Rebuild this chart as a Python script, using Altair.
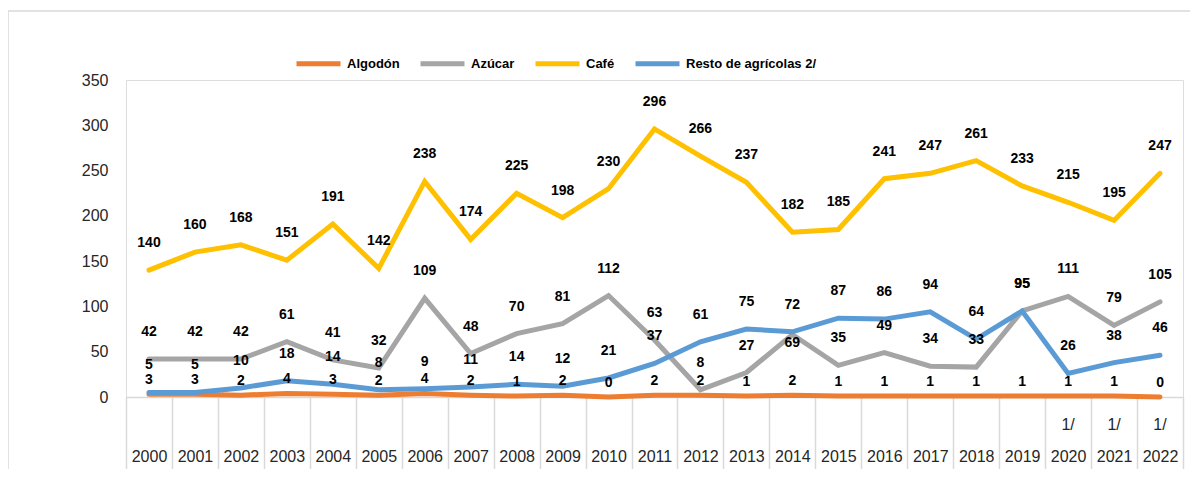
import altair as alt
import pandas as pd

years = [str(y) for y in range(2000, 2023)]
algodon = [3, 3, 2, 4, 3, 2, 4, 2, 1, 2, 0, 2, 2, 1, 2, 1, 1, 1, 1, 1, 1, 1, 0]
azucar = [42, 42, 42, 61, 41, 32, 109, 48, 70, 81, 112, 63, 8, 27, 69, 35, 49, 34, 33, 95, 111, 79, 105]
cafe = [140, 160, 168, 151, 191, 142, 238, 174, 225, 198, 230, 296, 266, 237, 182, 185, 241, 247, 261, 233, 215, 195, 247]
resto = [5, 5, 10, 18, 14, 8, 9, 11, 14, 12, 21, 37, 61, 75, 72, 87, 86, 94, 64, 95, 26, 38, 46]
notes = [""] * 20 + ["1/", "1/", "1/"]

series_names = ["Algodón", "Azúcar", "Café", "Resto de agrícolas  2/"]
series_colors = ["#ED7D31", "#A5A5A5", "#FFC000", "#5B9BD5"]
series_values = [algodon, azucar, cafe, resto]

rows = []
for name, vals in zip(series_names, series_values):
    for i, (yr, v) in enumerate(zip(years, vals)):
        if name == "Algodón":
            lbl = "bajo"
        elif name == "Azúcar" and 0 < resto[i] - v < 6:
            lbl = "debajo"
        else:
            lbl = "alto"
        rows.append({"year": yr, "serie": name, "valor": v, "lbl": lbl})
df = pd.DataFrame(rows)
notes_df = pd.DataFrame({"year": years, "nota": notes})

W, H = 1057, 317
FONT = "Liberation Sans"

x_enc = alt.X(
    "year:N",
    sort=years,
    scale=alt.Scale(type="band", paddingInner=0, paddingOuter=0, domain=years),
    axis=alt.Axis(
        title=None,
        labelAngle=0,
        labelFont=FONT,
        labelFontSize=16,
        labelColor="#262626",
        tickBand="extent",
        tickSize=75,
        tickColor="#D9D9D9",
        tickWidth=1.5,
        domainColor="#D9D9D9",
        domainWidth=1.5,
        labelPadding=-24,
        grid=False,
    ),
)
y_enc = alt.Y(
    "valor:Q",
    scale=alt.Scale(domain=[0, 350], nice=False),
    axis=alt.Axis(
        title=None,
        values=[0, 50, 100, 150, 200, 250, 300, 350],
        labelFont=FONT,
        labelFontSize=16,
        labelColor="#262626",
        domain=False,
        ticks=False,
        grid=False,
        labelPadding=18,
    ),
)

frame = alt.Chart(pd.DataFrame({"a": [0]})).mark_rect(
    fill=None, stroke="#D9D9D9", strokeWidth=1.5
).encode(
    x=alt.value(-118), x2=alt.value(W + 200), y=alt.value(-69), y2=alt.value(H + 200)
)

lines = alt.Chart(df).mark_line(strokeWidth=5, strokeCap="round", strokeJoin="miter").encode(
    x=x_enc,
    y=y_enc,
    color=alt.Color(
        "serie:N",
        scale=alt.Scale(domain=series_names, range=series_colors),
        legend=alt.Legend(
            title=None,
            orient="none",
            direction="horizontal",
            legendX=168,
            legendY=-41,
            symbolType="stroke",
            symbolStrokeWidth=5,
            symbolSize=1936,
            labelFont=FONT,
            labelFontSize=13,
            labelFontWeight="bold",
            labelColor="#000000",
            labelOffset=4,
            columnPadding=10,
        ),
    ),
    order=alt.Order("year:N"),
)


def label_layer(kind, dy):
    return alt.Chart(df).transform_filter(
        alt.datum.lbl == kind
    ).mark_text(
        dy=dy, font=FONT, fontSize=14, fontWeight="bold", color="#000000", baseline="middle"
    ).encode(x=x_enc, y=y_enc, text=alt.Text("valor:Q"))


labels_alto = label_layer("alto", -27)
labels_bajo = label_layer("bajo", -14)
labels_debajo = label_layer("debajo", 8)

note_text = alt.Chart(notes_df).mark_text(
    font=FONT, fontSize=16, color="#262626", baseline="middle"
).encode(x=alt.X("year:N", sort=years), y=alt.value(H + 28), text="nota:N")

chart = alt.layer(frame, lines, labels_alto, labels_bajo, labels_debajo, note_text).properties(
    width=W,
    height=H,
    autosize=alt.AutoSizeParams(type="none"),
    padding={"left": 118, "top": 72, "right": 7, "bottom": 72},
).configure_view(stroke=None).configure(background="white")

chart.save("out.html", embed_options={"renderer": "svg", "actions": False})
